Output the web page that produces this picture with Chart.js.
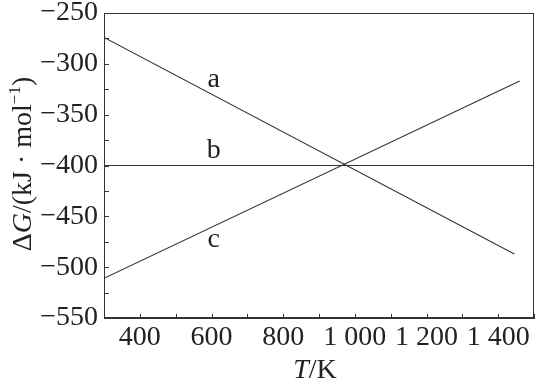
<!DOCTYPE html>
<html>
<head>
<meta charset="utf-8">
<script src="https://cdn.jsdelivr.net/npm/chart.js@4/dist/chart.umd.min.js"></script>
<style>
  html, body { margin: 0; padding: 0; background: #fff; }
  #wrap { width: 538px; height: 382px; }
</style>
</head>
<body>
<div id="wrap"><canvas id="chart"></canvas></div>
<script>
// ΔG - T : trois droites a, b, c

// données
const tA = [300, 1445];
const gA = [-274, -487];
const tB = [300, 1500];
const gB = [-400, -400];
const tC = [300, 1460];
const gC = [-511, -317];

// étiquettes des courbes (ancrées en coordonnées T / ΔG)
const curveNames = ["a", "b", "c"];
const curveLabelT = [606, 606, 606];
const curveLabelG = [-323, -393, -480];

// graduations
const xTickValues = [400, 600, 800, 1000, 1200, 1400];
const xTickLabels = ["400", "600", "800", "1 000", "1 200", "1 400"];
const yTickValues = [-250, -300, -350, -400, -450, -500, -550];
const yTickLabels = ["−250", "−300", "−350", "−400", "−450", "−500", "−550"];

const FONT = "Liberation Serif";
const INK = "#222";
const LINE = "#333";

function toPoints(ts, gs) {
  return ts.map((t, i) => ({ x: t, y: gs[i] }));
}

const decor = {
  id: "decor",
  afterDraw(chart) {
    const ctx = chart.ctx;
    const area = chart.chartArea;
    const xs = chart.scales.x;
    const ys = chart.scales.y;

    ctx.save();
    // cadre
    ctx.strokeStyle = LINE;
    ctx.lineWidth = 1;
    ctx.strokeRect(Math.round(area.left) + 0.5, Math.round(area.top) + 0.5,
      Math.round(area.right - area.left) - 1, Math.round(area.bottom - area.top) - 1);

    // petites graduations intérieures
    ctx.beginPath();
    xs.ticks.forEach((t) => {
      const px = Math.round(xs.getPixelForValue(t.value)) + 0.5;
      ctx.moveTo(px, area.bottom);
      ctx.lineTo(px, area.bottom - 4);
    });
    ys.ticks.forEach((t) => {
      const py = Math.round(ys.getPixelForValue(t.value)) + 0.5;
      ctx.moveTo(area.left, py);
      ctx.lineTo(area.left + 5, py);
    });
    ctx.stroke();

    // noms des courbes
    ctx.fillStyle = INK;
    ctx.font = `28px "${FONT}"`;
    ctx.textAlign = "center";
    ctx.textBaseline = "alphabetic";
    curveNames.forEach((n, i) => {
      ctx.fillText(n, xs.getPixelForValue(curveLabelT[i]), ys.getPixelForValue(curveLabelG[i]));
    });

    // titre de l'axe x : T/K
    drawRun(ctx, [
      { s: "T", f: `italic 28px "${FONT}"` },
      { s: "/K", f: `28px "${FONT}"` },
    ], 315, 378);

    // titre de l'axe y : ΔG/(kJ · mol⁻¹)
    ctx.save();
    ctx.translate(31, 164);
    ctx.rotate(-Math.PI / 2);
    drawRun(ctx, [
      { s: "Δ", f: `28px "${FONT}"` },
      { s: "G", f: `italic 28px "${FONT}"` },
      { s: "/(kJ · mol", f: `28px "${FONT}"` },
      { s: "−1", f: `17px "${FONT}"`, dy: -11 },
      { s: ")", f: `28px "${FONT}"` },
    ], 0, 0);
    ctx.restore();

    ctx.restore();
  },
};

// écrit une suite de morceaux centrée sur cx, ligne de base by
function drawRun(ctx, parts, cx, by) {
  let total = 0;
  parts.forEach((p) => {
    ctx.font = p.f;
    p.w = ctx.measureText(p.s).width;
    total += p.w;
  });
  let x = cx - total / 2;
  ctx.textAlign = "left";
  ctx.textBaseline = "alphabetic";
  ctx.fillStyle = INK;
  parts.forEach((p) => {
    ctx.font = p.f;
    ctx.fillText(p.s, x, by + (p.dy || 0));
    x += p.w;
  });
}

const ctx = document.getElementById("chart").getContext("2d");

const lineStyle = {
  showLine: true,
  borderColor: LINE,
  borderWidth: 1.1,
  pointRadius: 0,
  fill: false,
  tension: 0,
};

new Chart(ctx, {
  type: "scatter",
  data: {
    datasets: [
      { label: "a", data: toPoints(tA, gA), ...lineStyle },
      { label: "b", data: toPoints(tB, gB), ...lineStyle },
      { label: "c", data: toPoints(tC, gC), ...lineStyle },
    ],
  },
  options: {
    responsive: true,
    maintainAspectRatio: false,
    animation: false,
    layout: { padding: { top: 13, right: 4, left: 0, bottom: 0 } },
    plugins: {
      legend: { display: false },
      tooltip: { enabled: false },
    },
    scales: {
      x: {
        type: "linear",
        min: 300,
        max: 1500,
        afterFit: (s) => {
          s.height = 64;
          s.paddingLeft = 0;
          s.paddingRight = 0;
        },
        ticks: {
          stepSize: 100,
          autoSkip: false,
          maxRotation: 0,
          padding: 6,
          color: INK,
          font: { family: FONT, size: 28, lineHeight: 1 },
          callback: function (value) {
            const i = xTickValues.indexOf(value);
            return i >= 0 ? xTickLabels[i] : "";
          },
        },
        grid: { drawOnChartArea: false, drawTicks: false },
        border: { display: true, color: LINE, width: 1 },
      },
      y: {
        min: -550,
        max: -250,
        afterFit: (s) => {
          s.width = 104;
          s.paddingTop = 0;
          s.paddingBottom = 0;
        },
        ticks: {
          stepSize: 25,
          autoSkip: false,
          padding: 6,
          color: INK,
          font: { family: FONT, size: 28, lineHeight: 1 },
          callback: function (value) {
            const i = yTickValues.indexOf(value);
            return i >= 0 ? yTickLabels[i] : "";
          },
        },
        grid: { drawOnChartArea: false, drawTicks: false },
        border: { display: true, color: LINE, width: 1 },
      },
    },
  },
  plugins: [decor],
});
</script>
</body>
</html>
